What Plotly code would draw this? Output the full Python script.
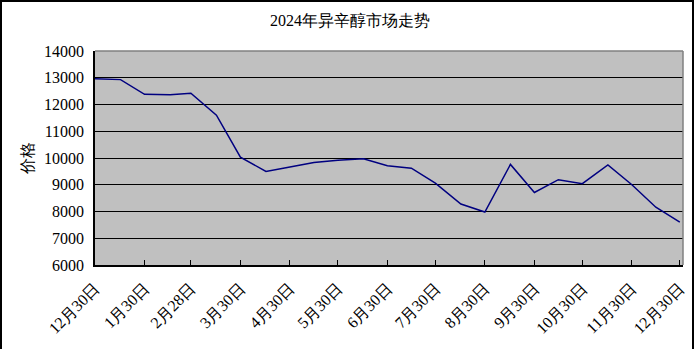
import plotly.graph_objects as go

dates = ["2023-12-30", "2024-01-15", "2024-01-30", "2024-02-15", "2024-02-28",
         "2024-03-15", "2024-03-30", "2024-04-15", "2024-04-30", "2024-05-15",
         "2024-05-30", "2024-06-15", "2024-06-30", "2024-07-15", "2024-07-30",
         "2024-08-15", "2024-08-30", "2024-09-15", "2024-09-30", "2024-10-15",
         "2024-10-30", "2024-11-15", "2024-11-30", "2024-12-15", "2024-12-30"]
prices = [12960, 12930, 12380, 12360, 12420,
          11600, 10030, 9500, 9660, 9835,
          9920, 9970, 9710, 9620, 9060,
          8280, 7980, 9760, 8710, 9190,
          9040, 9740, 9000, 8160, 7600]

tick_dates = ["2023-12-30", "2024-01-30", "2024-02-28", "2024-03-30", "2024-04-30",
              "2024-05-30", "2024-06-30", "2024-07-30", "2024-08-30", "2024-09-30",
              "2024-10-30", "2024-11-30", "2024-12-30"]
tick_labels = ["12月30日", "1月30日", "2月28日", "3月30日", "4月30日", "5月30日",
               "6月30日", "7月30日", "8月30日", "9月30日", "10月30日", "11月30日", "12月30日"]

FONT = "Liberation Serif"

fig = go.Figure()
fig.add_trace(go.Scatter(x=dates, y=prices, mode="lines",
                         line=dict(color="#000080", width=1.5), showlegend=False))

fig.update_layout(
    width=700, height=349,
    margin=dict(l=95, r=17, t=51, b=84, autoexpand=False),
    paper_bgcolor="white",
    plot_bgcolor="#C0C0C0",
    font=dict(family=FONT, size=16, color="black"),
    title=dict(text="2024年异辛醇市场走势", x=0.5, xanchor="center",
               y=1 - 20 / 349, yanchor="middle",
               font=dict(family=FONT, size=16, color="black")),
    xaxis=dict(type="date", range=["2023-12-30", "2025-01-01"],
               tickmode="array", tickvals=tick_dates, ticktext=tick_labels,
               tickangle=-45, ticks="inside", ticklen=5, tickcolor="black",
               ticklabelstandoff=6, automargin=False,
               showgrid=False, showline=True, linecolor="black", linewidth=1.5,
               zeroline=False, tickfont=dict(family=FONT, size=16)),
    yaxis=dict(range=[6000, 14000], dtick=1000, tick0=6000,
               ticks="inside", ticklen=5, tickcolor="black",
               ticklabelstandoff=6, automargin=False,
               showgrid=True, gridcolor="black", gridwidth=1.2,
               showline=True, linecolor="black", linewidth=1.5,
               zeroline=False, tickformat="d",
               tickfont=dict(family=FONT, size=16),
               title=dict(text="价格", standoff=6,
                          font=dict(family=FONT, size=16))),
    shapes=[
        dict(type="line", xref="paper", yref="paper", x0=0, x1=1, y0=1, y1=1,
             line=dict(color="#808080", width=1.5)),
        dict(type="line", xref="paper", yref="paper", x0=1, x1=1, y0=0, y1=1,
             line=dict(color="#808080", width=1.5)),
        dict(type="rect", xref="paper", yref="paper",
             x0=(1 - 95) / 588, x1=(693 - 95) / 588,
             y0=(265 - 400) / 214, y1=(265 - 1) / 214,
             line=dict(color="black", width=2), fillcolor="rgba(0,0,0,0)"),
    ],
)

fig.write_html("out.html")
